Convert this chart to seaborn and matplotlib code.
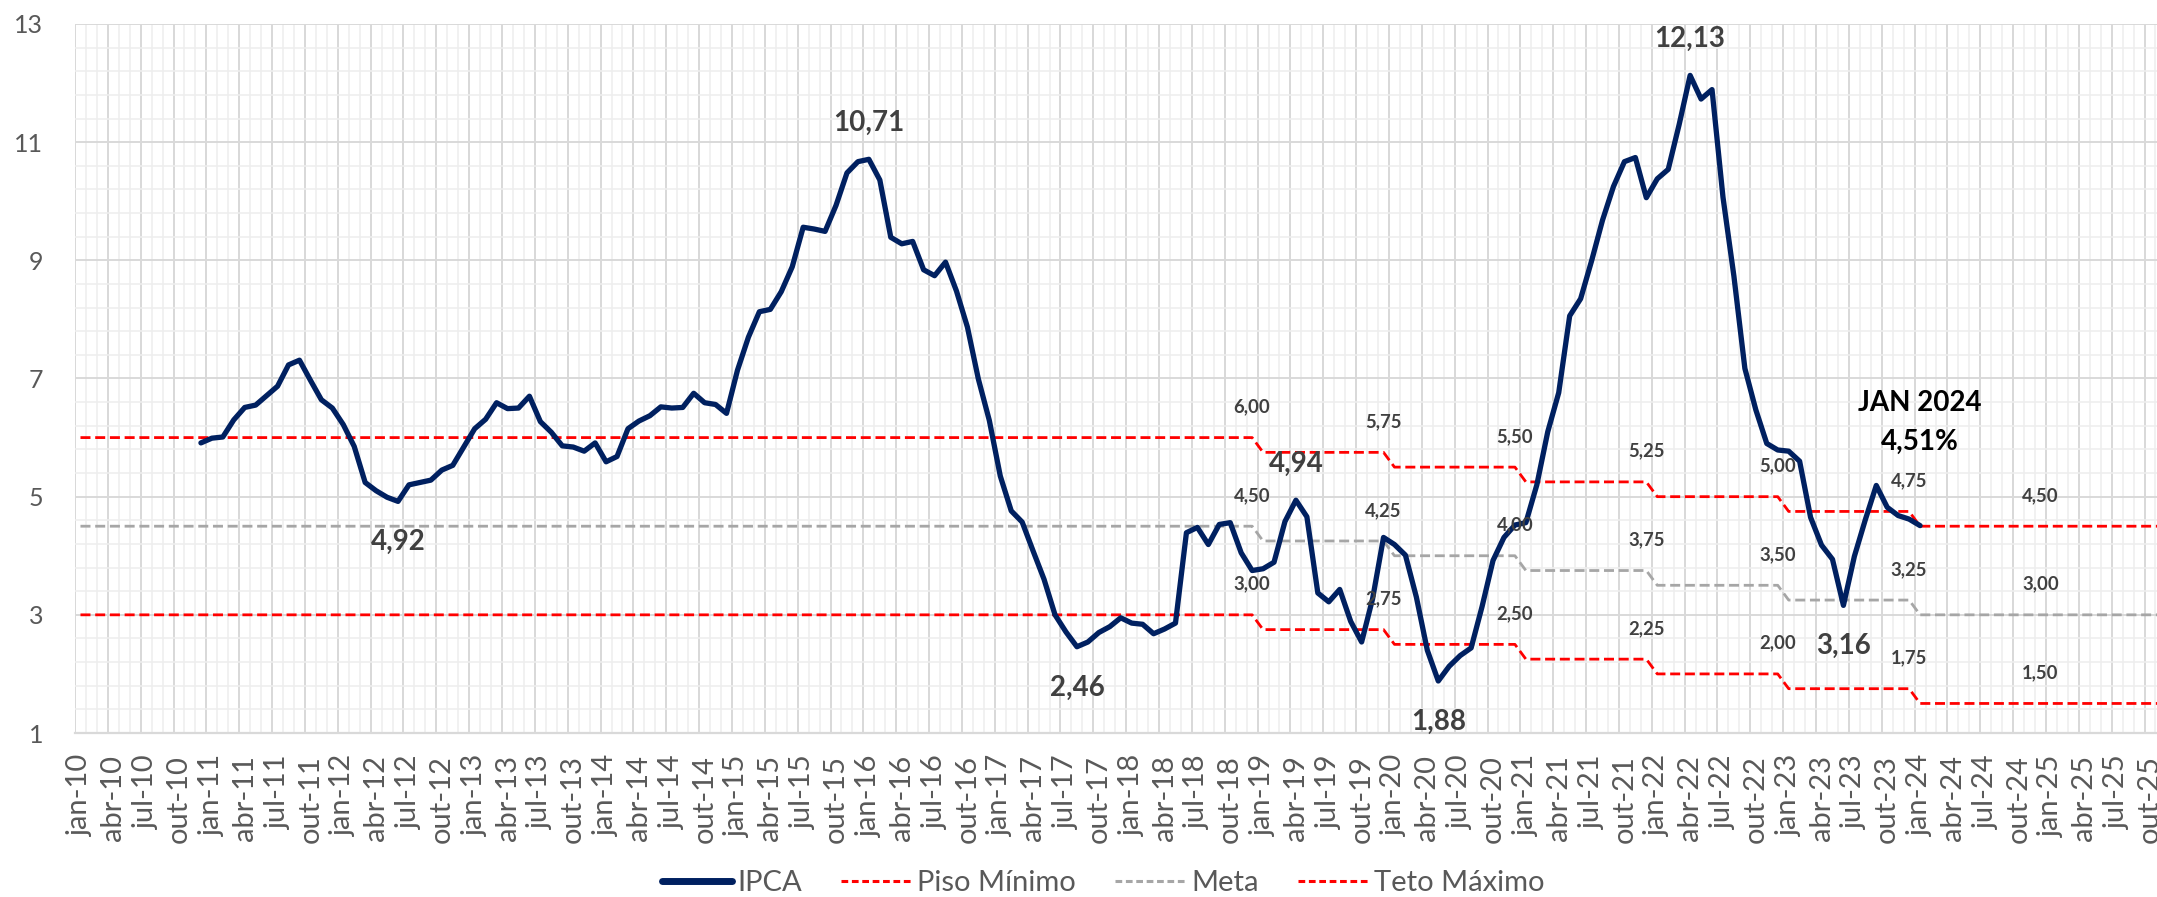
import numpy as np
import pandas as pd
import matplotlib
matplotlib.use("Agg")
import matplotlib.pyplot as plt
import seaborn as sns
from matplotlib.lines import Line2D

# ---------------- data ----------------
months_pt = ["jan", "fev", "mar", "abr", "mai", "jun", "jul", "ago", "set", "out", "nov", "dez"]
years = list(range(2010, 2026))
month_labels = [f"{m}-{str(y)[2:]}" for y in years for m in months_pt]

ipca_first_month = "dez-10"
ipca = [
    5.91,
    5.99, 6.01, 6.30, 6.51, 6.55, 6.71, 6.87, 7.23, 7.31, 6.97, 6.64, 6.50,   # 2011
    6.22, 5.85, 5.24, 5.10, 4.99, 4.92, 5.20, 5.24, 5.28, 5.45, 5.53, 5.84,   # 2012
    6.15, 6.31, 6.59, 6.49, 6.50, 6.70, 6.27, 6.09, 5.86, 5.84, 5.77, 5.91,   # 2013
    5.59, 5.68, 6.15, 6.28, 6.37, 6.52, 6.50, 6.51, 6.75, 6.59, 6.56, 6.41,   # 2014
    7.14, 7.70, 8.13, 8.17, 8.47, 8.89, 9.56, 9.53, 9.49, 9.93, 10.48, 10.67, # 2015
    10.71, 10.36, 9.39, 9.28, 9.32, 8.84, 8.74, 8.97, 8.48, 7.87, 6.99, 6.29, # 2016
    5.35, 4.76, 4.57, 4.08, 3.60, 3.00, 2.71, 2.46, 2.54, 2.70, 2.80, 2.95,   # 2017
    2.86, 2.84, 2.68, 2.76, 2.86, 4.39, 4.48, 4.19, 4.53, 4.56, 4.05, 3.75,   # 2018
    3.78, 3.89, 4.58, 4.94, 4.66, 3.37, 3.22, 3.43, 2.89, 2.54, 3.27, 4.31,   # 2019
    4.19, 4.01, 3.30, 2.40, 1.88, 2.13, 2.31, 2.44, 3.14, 3.92, 4.31, 4.52,   # 2020
    4.56, 5.20, 6.10, 6.76, 8.06, 8.35, 8.99, 9.68, 10.25, 10.67, 10.74, 10.06,  # 2021
    10.38, 10.54, 11.30, 12.13, 11.73, 11.89, 10.07, 8.73, 7.17, 6.47, 5.90, 5.79,  # 2022
    5.77, 5.60, 4.65, 4.18, 3.94, 3.16, 3.99, 4.61, 5.19, 4.82, 4.68, 4.62,   # 2023
    4.51,                                                                     # jan-24
]

band_years = [2010, 2011, 2012, 2013, 2014, 2015, 2016, 2017, 2018,
              2019, 2020, 2021, 2022, 2023, 2024, 2025]
teto = [6.00, 6.00, 6.00, 6.00, 6.00, 6.00, 6.00, 6.00, 6.00,
        5.75, 5.50, 5.25, 5.00, 4.75, 4.50, 4.50]
meta = [4.50, 4.50, 4.50, 4.50, 4.50, 4.50, 4.50, 4.50, 4.50,
        4.25, 4.00, 3.75, 3.50, 3.25, 3.00, 3.00]
piso = [3.00, 3.00, 3.00, 3.00, 3.00, 3.00, 3.00, 3.00, 3.00,
        2.75, 2.50, 2.25, 2.00, 1.75, 1.50, 1.50]
band_label_years = [2018, 2019, 2020, 2021, 2022, 2023, 2024]

highlight_months = ["jun-12", "jan-16", "ago-17", "abr-19", "mai-20", "abr-22", "jun-23"]
highlight_side = ["below", "above", "below", "above", "below", "above", "below"]
last_title = "JAN 2024"

# ---------------- frames ----------------
start = month_labels.index(ipca_first_month)
df_ipca = pd.DataFrame({"x": np.arange(start, start + len(ipca)), "IPCA": ipca})
df_band = pd.DataFrame({
    "x": np.arange(len(month_labels)),
    "Teto": np.repeat(teto, 12),
    "Meta": np.repeat(meta, 12),
    "Piso": np.repeat(piso, 12),
})

# ---------------- style ----------------
sns.set_theme(style="white")
plt.rcParams["font.family"] = ["Lato", "DejaVu Sans"]

W, H, DPI = 2157, 897, 100
fig = plt.figure(figsize=(W / DPI, H / DPI), dpi=DPI)
px_month = 10.95
ax_left, ax_top, ax_bottom = 75, 24, 733
ax = fig.add_axes([ax_left / W, (H - ax_bottom) / H,
                   192 * px_month / W, (ax_bottom - ax_top) / H])

NAVY = "#002060"
RED = "#FF0000"
GRAY = "#A6A6A6"
TXT = "#595959"
LBL = "#404040"
dash = (0, (3.6, 1.7))

sns.lineplot(data=df_band, x="x", y="Piso", ax=ax, color=RED, lw=2.0,
             linestyle=dash, zorder=3)
sns.lineplot(data=df_band, x="x", y="Meta", ax=ax, color=GRAY, lw=2.0,
             linestyle=dash, zorder=3)
sns.lineplot(data=df_band, x="x", y="Teto", ax=ax, color=RED, lw=2.0,
             linestyle=dash, zorder=3)
sns.lineplot(data=df_ipca, x="x", y="IPCA", ax=ax, color=NAVY, lw=3.8,
             zorder=4, solid_joinstyle="round", solid_capstyle="round")

# axes limits / ticks
ax.set_xlim(-0.5, 191.5)
ax.set_ylim(1, 13)
ax.set_xlabel("")
ax.set_ylabel("")
ax.set_xticks(np.arange(0, len(month_labels), 3))
ax.set_xticklabels(month_labels[::3], rotation=90, fontsize=21, color=TXT)
ax.set_yticks(np.arange(1, 14, 2))
ax.set_yticklabels([str(v) for v in range(1, 14, 2)], fontsize=18, color=TXT)
ax.set_yticks(np.arange(1, 13.01, 0.4), minor=True)
ax.tick_params(axis="x", length=0, pad=16)
ax.tick_params(axis="y", which="both", length=0, pad=23)

# grid
ax.set_axisbelow(True)
ax.grid(False)
ax.yaxis.grid(True, which="minor", color="#EEEEEE", lw=1.1, zorder=0)
ax.yaxis.grid(True, which="major", color="#D9D9D9", lw=1.4, zorder=0)
bounds = np.arange(-0.5, 192, 1)
ax.vlines(bounds, 1, 13, colors="#EEEEEE", lw=1.1, zorder=0)
ax.vlines(bounds[::3], 1, 13, colors="#D9D9D9", lw=1.4, zorder=0)
for s in ["top", "right", "left"]:
    ax.spines[s].set_visible(False)
ax.spines["bottom"].set_color("#D9D9D9")
ax.spines["bottom"].set_linewidth(1.6)

# highlighted IPCA values
for m, side in zip(highlight_months, highlight_side):
    xi = month_labels.index(m)
    v = ipca[xi - start]
    yy = v + 0.62 if side == "above" else v - 0.69
    ax.text(xi, yy, f"{v:.2f}".replace(".", ","), ha="center", va="center",
            fontsize=20, fontweight="bold", color=LBL, zorder=6)

# last value
xl = start + len(ipca) - 1
ax.text(xl, 6.58, last_title, ha="center", va="center", fontsize=20,
        fontweight="bold", color="black", zorder=6)
ax.text(xl, 5.92, f"{ipca[-1]:.2f}".replace(".", ",") + "%", ha="center",
        va="center", fontsize=20, fontweight="bold", color="black", zorder=6)

# band labels
for yr in band_label_years:
    xi = month_labels.index(f"dez-{str(yr)[2:]}")
    k = band_years.index(yr)
    for arr in (teto, meta, piso):
        ax.text(xi, arr[k] + 0.52, f"{arr[k]:.2f}".replace(".", ","),
                ha="center", va="center", fontsize=13.3, fontweight="bold",
                color=LBL, zorder=6)

# legend
handles = [
    Line2D([], [], color=NAVY, lw=5, solid_capstyle="round"),
    Line2D([], [], color=RED, lw=2.2, linestyle=(0, (2.2, 1.2))),
    Line2D([], [], color=GRAY, lw=2.2, linestyle=(0, (2.2, 1.2))),
    Line2D([], [], color=RED, lw=2.2, linestyle=(0, (2.2, 1.2))),
]
labels = ["IPCA", "Piso Mínimo", "Meta", "Teto Máximo"]
fig.legend(handles, labels, loc="center", bbox_to_anchor=(1103 / W, 14 / H),
           ncol=4, frameon=False, fontsize=21, labelcolor=TXT,
           handlelength=2.4, handletextpad=0.2, columnspacing=1.35,
           borderpad=0, borderaxespad=0)

fig.savefig("out.png", dpi=DPI)
